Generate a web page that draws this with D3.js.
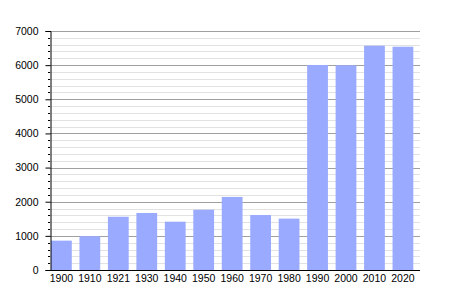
<!DOCTYPE html>
<html>
<head>
<meta charset="utf-8">
<script src="https://cdn.jsdelivr.net/npm/d3@7"></script>
<style>
  body { margin: 0; background: #fff; }
  text { font-family: "Liberation Sans", Arial, sans-serif; font-size: 10.5px; fill: #000; }
</style>
</head>
<body>
<script>
'use strict';

var years = ["1900", "1910", "1921", "1930", "1940", "1950", "1960", "1970", "1980", "1990", "2000", "2010", "2020"];
var population = [860, 990, 1560, 1670, 1415, 1765, 2140, 1610, 1505, 6005, 5995, 6570, 6540];
var yTicks = [0, 1000, 2000, 3000, 4000, 5000, 6000, 7000];

var width = 450, height = 300;
var padL = 50, padR = 420, padT = 31, padB = 270;

var svg = d3.select("body")
  .append("svg")
    .attr("width", width)
    .attr("height", height);

var xScale = d3.scaleBand()
  .domain(years)
  .range([padL, padR]);

var yScale = d3.scaleLinear()
  .domain([0, 7000])
  .range([padB, padT]);

function py(d) { return Math.round(yScale(d)) + 0.5; }

// minor grid every 200
var minor = d3.range(0, 7001, 200).filter(function(v) { return v % 1000 !== 0; });
svg.append("g").selectAll("line")
  .data(minor)
  .enter().append("line")
    .attr("x1", padL).attr("x2", padR)
    .attr("y1", py).attr("y2", py)
    .attr("stroke", "#e2e2e2");

svg.append("g").selectAll("line")
  .data(yTicks.slice(1))
  .enter().append("line")
    .attr("x1", padL).attr("x2", padR)
    .attr("y1", py).attr("y2", py)
    .attr("stroke", "#a0a0a0");

// bars
var bw = xScale.bandwidth() * 0.73;
svg.append("g").selectAll("rect")
  .data(population)
  .enter().append("rect")
    .attr("x", function(d, i) { return xScale(years[i]) + 1; })
    .attr("y", function(d) { return yScale(d); })
    .attr("width", bw)
    .attr("height", function(d) { return yScale(0) - yScale(d); })
    .attr("fill", "#99aaff");

// left axis
var yAxis = d3.axisLeft(yScale)
  .tickValues(yTicks)
  .tickSize(5)
  .tickPadding(7)
  .tickFormat(d3.format("d"));
var ga = svg.append("g")
  .attr("transform", "translate(" + (padL + 0.5) + ",0)")
  .call(yAxis);
ga.select(".domain").attr("stroke", "#000");
ga.selectAll("text").style("font-size", "10.5px").style("font-family", "Liberation Sans, Arial, sans-serif");

svg.append("g").selectAll("line")
  .data(minor)
  .enter().append("line")
    .attr("x1", padL - 2).attr("x2", padL)
    .attr("y1", py).attr("y2", py)
    .attr("stroke", "#000");

// bottom axis line
svg.append("line")
  .attr("x1", padL).attr("x2", padR)
  .attr("y1", padB + 0.5).attr("y2", padB + 0.5)
  .attr("stroke", "#000");

svg.append("g").selectAll("text")
  .data(years)
  .enter().append("text")
    .attr("x", function(d) { return xScale(d) + 1 + bw / 2; })
    .attr("y", padB + 12)
    .attr("text-anchor", "middle")
    .text(function(d) { return d; });
</script>
</body>
</html>
